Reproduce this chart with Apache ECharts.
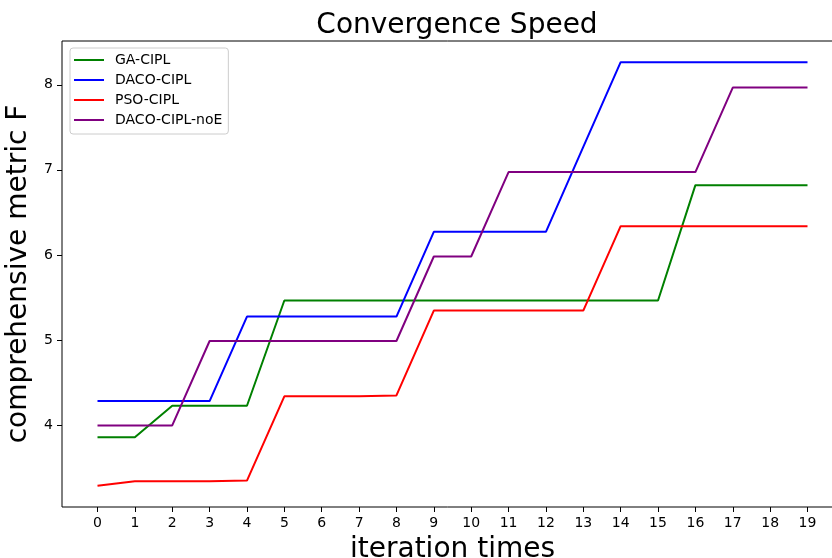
<!DOCTYPE html>
<html>
<head>
<meta charset="utf-8">
<script src="https://cdn.jsdelivr.net/npm/echarts@6/dist/echarts.min.js"></script>
<style>
  html, body { margin: 0; padding: 0; background: #fff; }
  #chart { width: 832px; height: 558px; }
</style>
</head>
<body>
<div id="chart"></div>
<script>
// iteration index on the x axis
const iterations = [0, 1, 2, 3, 4, 5, 6, 7, 8, 9, 10, 11, 12, 13, 14, 15, 16, 17, 18, 19];

// comprehensive metric F per iteration, one array per algorithm
const gaCipl = [3.856, 3.856, 4.226, 4.226, 4.226, 5.463, 5.463, 5.463, 5.463, 5.463,
                5.463, 5.463, 5.463, 5.463, 5.463, 5.463, 6.82, 6.82, 6.82, 6.82];
const dacoCipl = [4.28, 4.28, 4.28, 4.28, 5.274, 5.274, 5.274, 5.274, 5.274, 6.271,
                  6.271, 6.271, 6.271, 7.27, 8.266, 8.266, 8.266, 8.266, 8.266, 8.266];
const psoCipl = [3.284, 3.338, 3.338, 3.338, 3.346, 4.336, 4.336, 4.336, 4.347, 5.345,
                 5.345, 5.345, 5.345, 5.345, 6.338, 6.338, 6.338, 6.338, 6.338, 6.338];
const dacoCiplNoE = [3.994, 3.994, 3.994, 4.987, 4.987, 4.987, 4.987, 4.987, 4.987, 5.981,
                     5.981, 6.974, 6.974, 6.974, 6.974, 6.974, 6.974, 7.967, 7.967, 7.967];

const seriesNames = ['GA-CIPL', 'DACO-CIPL', 'PSO-CIPL', 'DACO-CIPL-noE'];
const seriesValues = [gaCipl, dacoCipl, psoCipl, dacoCiplNoE];
const seriesColors = ['#008000', '#0000ff', '#ff0000', '#800080'];

const yTickLabels = [4, 5, 6, 7, 8];

// axis limits with 5% padding around the data
const allValues = seriesValues.flat();
const dataMin = Math.min(...allValues), dataMax = Math.max(...allValues);
const yPad = (dataMax - dataMin) * 0.05;
const xPad = (iterations[iterations.length - 1] - iterations[0]) * 0.05;

const FONT = '"DejaVu Sans", sans-serif';

const chart = echarts.init(document.getElementById('chart'), null, { renderer: 'canvas' });

chart.setOption({
  animation: false,
  backgroundColor: '#ffffff',
  title: {
    text: 'Convergence Speed',
    left: 452,
    textAlign: 'center',
    top: 7,
    textStyle: { fontFamily: FONT, fontSize: 28, fontWeight: 'normal', color: '#000' }
  },
  legend: {
    orient: 'vertical',
    left: 70,
    top: 48,
    padding: [5, 6, 7, 4],
    itemWidth: 30,
    itemHeight: 14,
    itemGap: 6,
    icon: 'path://M0,0H30V2H0Z',
    backgroundColor: '#ffffff',
    borderColor: '#cccccc',
    borderWidth: 1,
    borderRadius: 3,
    textStyle: { fontFamily: FONT, fontSize: 14, color: '#000', padding: [0, 0, 0, 6] },
    data: seriesNames
  },
  grid: {
    left: 62,
    top: 41,
    width: 781,
    height: 466,
    show: true,
    borderColor: '#000',
    borderWidth: 1,
    containLabel: false,
    outerBoundsMode: 'none'
  },
  xAxis: {
    type: 'value',
    min: iterations[0] - xPad,
    max: iterations[iterations.length - 1] + xPad,
    name: 'iteration times',
    nameLocation: 'middle',
    nameGap: 29,
    nameTextStyle: { fontFamily: FONT, fontSize: 28, color: '#000' },
    axisLine: { show: false, onZero: false },
    splitLine: { show: false },
    axisTick: { show: true, inside: false, length: 5, customValues: iterations,
                lineStyle: { color: '#000', width: 1 } },
    axisLabel: { customValues: iterations, margin: 9, fontFamily: FONT, fontSize: 14, color: '#000' }
  },
  yAxis: {
    type: 'value',
    min: dataMin - yPad,
    max: dataMax + yPad,
    name: 'comprehensive metric F',
    nameLocation: 'middle',
    nameGap: 22,
    nameTextStyle: { fontFamily: FONT, fontSize: 28, color: '#000' },
    axisLine: { show: false, onZero: false },
    splitLine: { show: false },
    axisTick: { show: true, inside: false, length: 5, customValues: yTickLabels,
                lineStyle: { color: '#000', width: 1 } },
    axisLabel: { customValues: yTickLabels, margin: 9, fontFamily: FONT, fontSize: 14, color: '#000' }
  },
  series: seriesNames.map((name, i) => ({
    name: name,
    type: 'line',
    data: iterations.map((x, j) => [x, seriesValues[i][j]]),
    symbol: 'none',
    showSymbol: false,
    color: seriesColors[i],
    lineStyle: { color: seriesColors[i], width: 2 },
    z: 2 + i
  }))
});
</script>
</body>
</html>
